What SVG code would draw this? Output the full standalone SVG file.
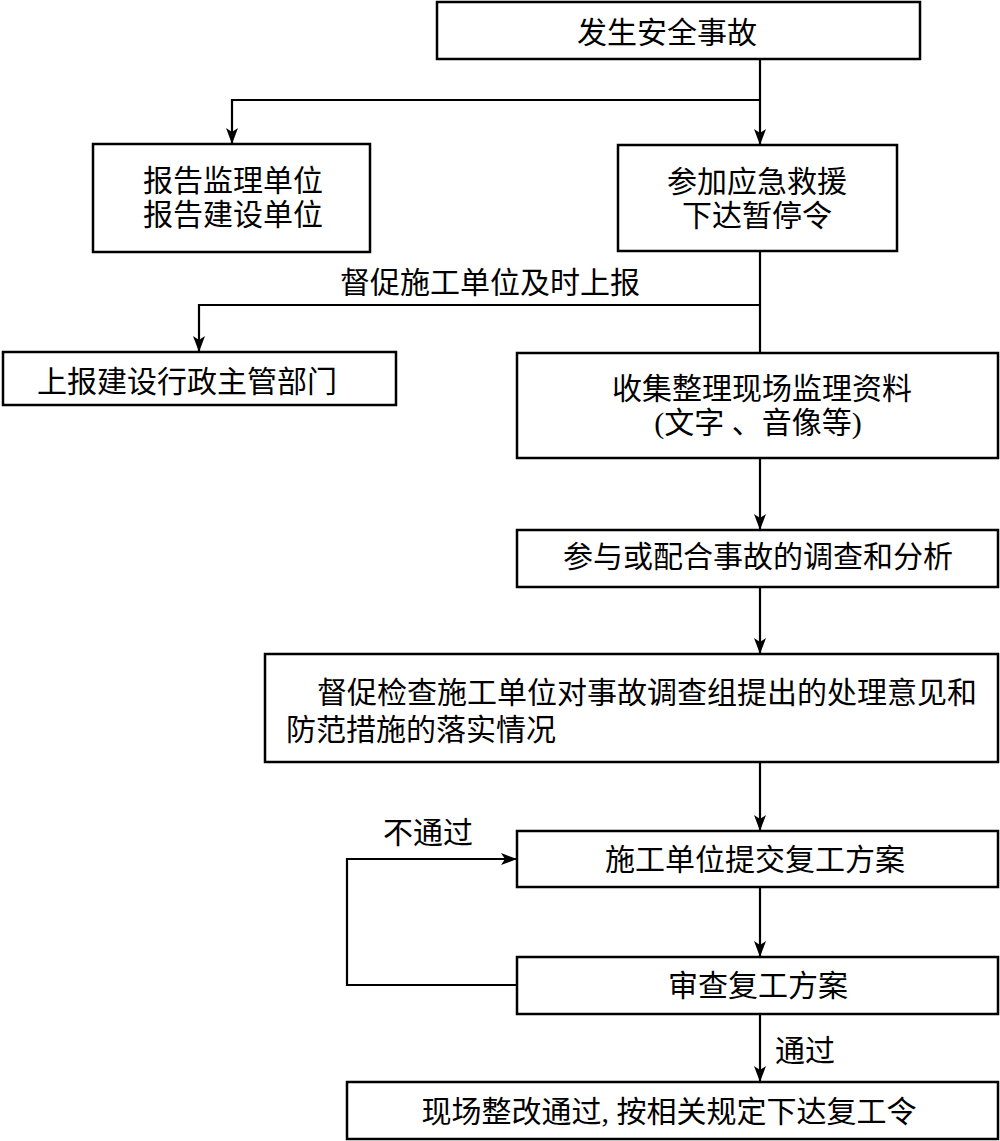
<svg xmlns="http://www.w3.org/2000/svg" width="1000" height="1141" viewBox="0 0 1000 1141">
<style>
.box{fill:#fff;stroke:#000;stroke-width:2.5}
.t{font-family:"Liberation Serif","Noto Sans CJK SC",serif;font-size:30px;fill:#000;dominant-baseline:central}
.c{text-anchor:middle}
.ln{fill:none;stroke:#000;stroke-width:2.2}
</style>
<defs>
<marker id="ah" viewBox="0 0 16 12" refX="16" refY="6" markerWidth="16" markerHeight="12" markerUnits="userSpaceOnUse" orient="auto">
<path d="M0,0 L16,6 L0,12 L4,6 Z" fill="#000"/>
</marker>
</defs>
<rect width="1000" height="1141" fill="#fff"/>
<g id="connectors">
<path class="ln" d="M760,59 V145" marker-end="url(#ah)"/>
<path class="ln" d="M760,100 H232 V144" marker-end="url(#ah)"/>
<path class="ln" d="M760,251 V353"/>
<path class="ln" d="M760,305 H199 V352" marker-end="url(#ah)"/>
<path class="ln" d="M760,458 V530" marker-end="url(#ah)"/>
<path class="ln" d="M760,587 V654" marker-end="url(#ah)"/>
<path class="ln" d="M760,762 V831" marker-end="url(#ah)"/>
<path class="ln" d="M760,887 V957" marker-end="url(#ah)"/>
<path class="ln" d="M760,1014 V1082" marker-end="url(#ah)"/>
<path class="ln" d="M517,985 H347 V859 H517" marker-end="url(#ah)"/>
<text class="t c" x="490" y="282">督促施工单位及时上报</text>
<text class="t c" x="428" y="832">不通过</text>
<text class="t c" x="805" y="1050">通过</text>
</g>
<g id="n1"><rect class="box" x="437" y="2" width="483" height="57"/><text class="t c" x="667" y="32">发生安全事故</text></g>
<g id="n2"><rect class="box" x="93" y="144" width="277" height="108"/><text class="t c" x="233" y="180">报告监理单位</text><text class="t c" x="233" y="214">报告建设单位</text></g>
<g id="n3"><rect class="box" x="618" y="145" width="279" height="106"/><text class="t c" x="757" y="181">参加应急救援</text><text class="t c" x="757" y="215">下达暂停令</text></g>
<g id="n4"><rect class="box" x="3" y="352" width="393" height="53"/><text class="t c" x="187" y="381">上报建设行政主管部门</text></g>
<g id="n5"><rect class="box" x="517" y="353" width="481" height="105"/><text class="t c" x="762" y="388">收集整理现场监理资料</text><text class="t c" x="758" y="422">(文字 、音像等)</text></g>
<g id="n6"><rect class="box" x="517" y="530" width="481" height="57"/><text class="t c" x="758" y="556">参与或配合事故的调查和分析</text></g>
<g id="n7"><rect class="box" x="265" y="654" width="733" height="108"/><text class="t" x="317" y="692">督促检查施工单位对事故调查组提出的处理意见和</text><text class="t" x="286" y="729">防范措施的落实情况</text></g>
<g id="n8"><rect class="box" x="517" y="831" width="481" height="56"/><text class="t c" x="755" y="859">施工单位提交复工方案</text></g>
<g id="n9"><rect class="box" x="517" y="957" width="481" height="57"/><text class="t c" x="758" y="985">审查复工方案</text></g>
<g id="n10"><rect class="box" x="347" y="1082" width="651" height="57"/><text class="t c" x="669" y="1111">现场整改通过, 按相关规定下达复工令</text></g>
</svg>
